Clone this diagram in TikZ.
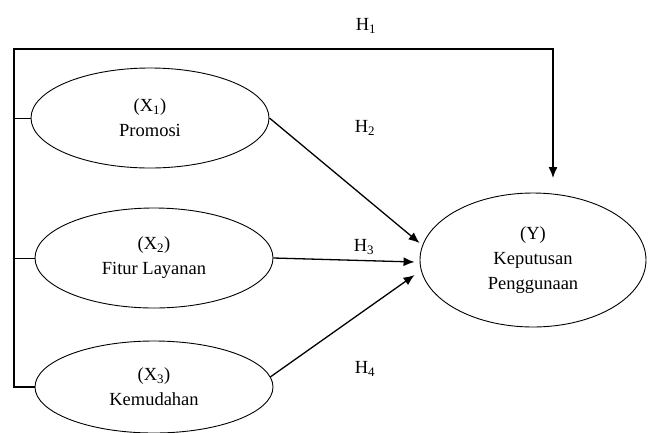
\documentclass[tikz,border=0pt]{standalone}
\usepackage{fontspec}
\setmainfont{Liberation Serif}
\usetikzlibrary{shapes.geometric,arrows.meta}

\begin{document}
\begin{tikzpicture}[x=1pt,y=-1pt,font=\fontsize{18.5}{25}\selectfont,
		var/.style={draw,ellipse,line width=0.9pt,minimum width=238pt,minimum height=100pt,inner sep=0pt,align=center},
		hyp/.style={line width=1.3pt,-{Latex[length=11pt,width=9pt]}}]
				\useasboundingbox (0,0) rectangle (648,432);

				\node[var] (X1) at (150,118) {(X\textsubscript{1})\\Promosi};
				\node[var] (X2) at (154,258) {(X\textsubscript{2})\\Fitur Layanan};
				\node[var,minimum height=92pt] (X3) at (154,387) {(X\textsubscript{3})\\Kemudahan};
				\node[var,minimum width=226pt,minimum height=134pt] (Y) at (533,260) {(Y)\\Keputusan\\Penggunaan};

				\coordinate (corner) at (14,49);
				\coordinate (top) at (553,178);
				\draw[hyp] (X3.west) -| (corner) -| (top);
				\foreach \v in {X1,X2} {
					\draw[line width=1pt] (\v.west) -- (\v.west -| corner);
				}

				\draw[hyp] (X1.east) -- ([yshift=17pt]Y.west);
				\draw[hyp] (X2.east) -- ([xshift=-5pt,yshift=-2pt]Y.west);
				\draw[hyp] (X3.5) -- ([xshift=-5pt,yshift=-15pt]Y.west);

				\node (h1) at (366,26) {H\textsubscript{1}};
				\node (h2) at (365,128) {H\textsubscript{2}};
				\node (h3) at (364,247) {H\textsubscript{3}};
				\node (h4) at (365,369) {H\textsubscript{4}};
			\end{tikzpicture}
\end{document}
